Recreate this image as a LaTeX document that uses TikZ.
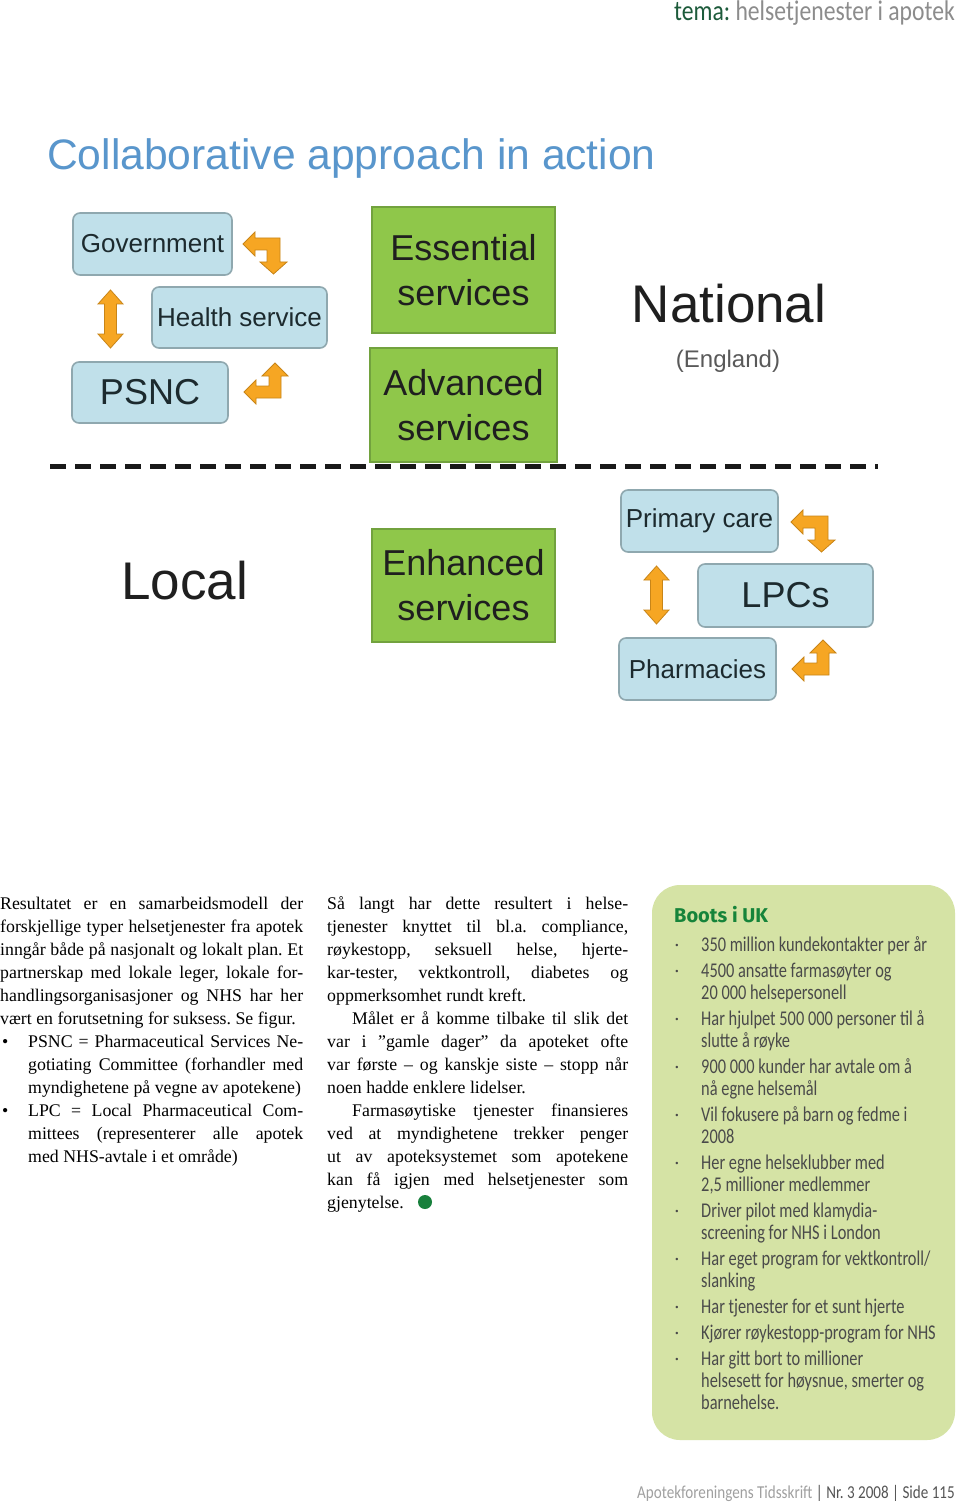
\documentclass[tikz,border=0pt]{standalone}
\usepackage{fontspec}
\setmainfont{Liberation Serif}
\newfontfamily\arialf{Liberation Sans}
\newfontfamily\sidef[FakeStretch=0.78]{Carlito}
\newfontfamily\headf[FakeStretch=0.83]{Carlito}
\newfontfamily\bootsf{Fira Sans}
\definecolor{boxblue}{HTML}{C0E0EA}
\definecolor{boxblueline}{HTML}{8FA8AF}
\definecolor{boxgreen}{HTML}{8FC74A}
\definecolor{greenline}{HTML}{72A23E}
\definecolor{boxtext}{HTML}{1C2A2E}
\definecolor{arrorange}{HTML}{F6A623}
\definecolor{arrline}{HTML}{C88518}
\definecolor{titleblue}{HTML}{5996CC}
\definecolor{temagreen}{HTML}{1D5B3B}
\definecolor{temagray}{HTML}{8C8C8C}
\definecolor{sidebg}{HTML}{D5E3A5}
\definecolor{sidetextc}{HTML}{4A4A4A}
\definecolor{bootsgreen}{HTML}{16843A}
\definecolor{dotgreen}{HTML}{18803C}
\definecolor{footlight}{HTML}{A0A0A0}
\definecolor{footdark}{HTML}{555555}
\newcommand\ColJ[5]{\node[coltext] (#1) at (#2,#3) {\makebox[#4pt][s]{#5}};}
\newcommand\ColL[4]{\node[coltext] (#1) at (#2,#3) {#4};}
\newcommand\SideL[3]{\node[sidetext] (#1) at (701,#2) {#3};}
\newcommand\SideB[2]{\node[sidebullet] (#1) at (677,#2) {•};}
\frenchspacing
\begin{document}
\begin{tikzpicture}[x=1pt,y=-1pt,
  bluebox/.style={draw=boxblueline, fill=boxblue, rounded corners=7pt, line width=1.6pt, text=boxtext, inner sep=0pt},
  greenbox/.style={draw=greenline, fill=boxgreen, line width=1.2pt, text=black!88, inner sep=0pt, align=center, font=\arialf\fontsize{36}{45}\selectfont},
  orarrow/.style={fill=arrorange, draw=arrline, line width=0.8pt, line join=miter},
  coltext/.style={anchor=base west, inner sep=0pt, font=\fontsize{17.8}{23}\selectfont, text=black},
  sidetext/.style={anchor=base west, inner sep=0pt, font=\sidef\fontsize{21}{22}\selectfont, text=sidetextc},
  sidebullet/.style={anchor=base, inner sep=0pt, font=\arialf\fontsize{9}{10}\selectfont, text=sidetextc},
  bentA/.pic={\path[orarrow] (0,12) -- (12,0) -- (12,6) -- (37,6) -- (37,30) -- (44,30) -- (30.5,42) -- (17,30) -- (24,30) -- (24,18) -- (12,18) -- (12,24) -- cycle;},
  bentB/.pic={\path[orarrow] (31,0) -- (44,13) -- (37,13) -- (37,35) -- (12,35) -- (12,41) -- (0,29) -- (12,17) -- (12,23) -- (25,23) -- (25,13) -- (18,13) -- cycle;},
  vdouble/.pic={\path[orarrow] (0,0) -- (12.5,14) -- (6,14) -- (6,44) -- (12.5,44) -- (0,58) -- (-12.5,44) -- (-6,44) -- (-6,14) -- (-12.5,14) -- cycle;}
]
\useasboundingbox (0,0) rectangle (960,1503);
\fill[white] (0,0) rectangle (960,1503);

% header
\node[anchor=base east, inner sep=0pt, font=\headf\fontsize{28.5}{30}\selectfont] (header) at (955,21)
  {\textcolor{temagreen}{tema:} \textcolor{temagray}{helsetjenester i apotek}};

% title
\node[anchor=base west, inner sep=0pt, font=\arialf\fontsize{42.6}{48}\selectfont, text=titleblue] (title) at (47,170) {Collaborative approach in action};

% national boxes
\node[bluebox, minimum width=159pt, minimum height=62pt, font=\arialf\fontsize{26}{30}\selectfont] (gov) at (152.5,244) {Government};
\node[bluebox, minimum width=175pt, minimum height=61pt, font=\arialf\fontsize{26}{30}\selectfont] (hs) at (239.5,317.5) {Health service};
\node[bluebox, minimum width=156pt, minimum height=61pt, font=\arialf\fontsize{36}{40}\selectfont] (psnc) at (150,392.5) {PSNC};
\pic at (243,232) {bentA};
\pic at (244,363) {bentB};
\pic at (110.5,290) {vdouble};

\node[greenbox, minimum width=183pt, minimum height=126pt] (ess) at (463.5,270) {Essential\\services};
\node[greenbox, minimum width=187pt, minimum height=114pt] (adv) at (463.5,405) {Advanced\\services};

\node[anchor=base, inner sep=0pt, font=\arialf\fontsize{53}{60}\selectfont, text=black!88] (national) at (729,322) {National};
\node[anchor=base, inner sep=0pt, font=\arialf\fontsize{24}{28}\selectfont, text=black!65] (england) at (728,367) {(England)};

% divider
\coordinate (dl) at (50,466);
\coordinate (dr) at (878,466);
\draw[line width=5pt, black!90, dash pattern=on 16pt off 9pt] (dl) -- (dr);

% local
\node[anchor=base, inner sep=0pt, font=\arialf\fontsize{53}{60}\selectfont, text=black!88] (local) at (184.5,599) {Local};
\node[greenbox, minimum width=183pt, minimum height=113pt] (enh) at (463.5,585.5) {Enhanced\\services};

\node[bluebox, minimum width=157pt, minimum height=62pt, font=\arialf\fontsize{26}{30}\selectfont] (pc) at (699.5,521) {Primary care};
\node[bluebox, minimum width=175pt, minimum height=63pt, font=\arialf\fontsize{36}{40}\selectfont] (lpcs) at (785.5,595.5) {LPCs};
\node[bluebox, minimum width=157pt, minimum height=62pt, font=\arialf\fontsize{26}{30}\selectfont] (ph) at (697.5,669) {Pharmacies};
\pic at (791,510) {bentA};
\pic at (792,640) {bentB};
\pic at (656.5,566) {vdouble};

% column 1
\ColJ{a1}{0}{909}{303}{Resultatet er en samarbeidsmodell der}
\ColJ{a2}{0}{932}{303}{forskjellige typer helsetjenester fra apotek}
\ColJ{a3}{0}{955}{303}{inngår både på nasjonalt og lokalt plan. Et}
\ColJ{a4}{0}{978}{303}{partnerskap med lokale leger, lokale for-}
\ColJ{a5}{0}{1001}{303}{handlingsorganisasjoner og NHS har her}
\ColL{a6}{0}{1024}{vært en forutsetning for suksess. Se figur.}
\ColL{ab1}{2}{1047}{•}
\ColJ{a7}{28}{1047}{275}{PSNC = Pharmaceutical Services Ne-}
\ColJ{a8}{28}{1070}{275}{gotiating Committee (forhandler med}
\ColL{a9}{28}{1093}{myndighetene på vegne av apotekene)}
\ColL{ab2}{2}{1116}{•}
\ColJ{a10}{28}{1116}{275}{LPC = Local  Pharmaceutical Com-}
\ColJ{a11}{28}{1139}{275}{mittees (representerer alle apotek}
\ColL{a12}{28}{1162}{med NHS-avtale i et område)}

% column 2
\ColJ{b1}{327}{909}{301}{Så langt har dette resultert i helse-}
\ColJ{b2}{327}{932}{301}{tjenester knyttet til bl.a. compliance,}
\ColJ{b3}{327}{955}{301}{røykestopp, seksuell helse, hjerte-}
\ColJ{b4}{327}{978}{301}{kar-tester, vektkontroll, diabetes og}
\ColL{b5}{327}{1001}{oppmerksomhet rundt kreft.}
\ColJ{b6}{352}{1024}{276}{Målet er å komme tilbake til slik det}
\ColJ{b7}{327}{1047}{301}{var i ”gamle dager” da apoteket ofte}
\ColJ{b8}{327}{1070}{301}{var første – og kanskje siste – stopp når}
\ColL{b9}{327}{1093}{noen hadde enklere lidelser.}
\ColJ{b10}{352}{1116}{276}{Farmasøytiske tjenester finansieres}
\ColJ{b11}{327}{1139}{301}{ved at myndighetene trekker penger}
\ColJ{b12}{327}{1162}{301}{ut av apoteksystemet som apotekene}
\ColJ{b13}{327}{1185}{301}{kan få igjen med helsetjenester som}
\ColL{b14}{327}{1208}{gjenytelse.}
\fill[dotgreen] (425,1202) circle (7pt);

% sidebar
\fill[sidebg, rounded corners=28pt] (652,885) rectangle (955,1440);
\node[anchor=base west, inner sep=0pt, font=\bootsf\bfseries\fontsize{20}{24}\selectfont, text=bootsgreen] (boots) at (674,922) {Boots i UK};
\SideB{s1}{948}\SideL{t1}{951}{350 million kundekontakter per år}
\SideB{s2}{974}\SideL{t2}{977}{4500 ansatte farmasøyter og}
\SideL{t2b}{999}{20 000 helsepersonell}
\SideB{s3}{1022}\SideL{t3}{1025}{Har hjulpet 500 000 personer til å}
\SideL{t3b}{1047}{slutte å røyke}
\SideB{s4}{1070}\SideL{t4}{1073}{900 000 kunder har avtale om å}
\SideL{t4b}{1095}{nå egne helsemål}
\SideB{s5}{1118}\SideL{t5}{1121}{Vil fokusere på barn og fedme i}
\SideL{t5b}{1143}{2008}
\SideB{s6}{1166}\SideL{t6}{1169}{Her egne helseklubber med}
\SideL{t6b}{1191}{2,5 millioner medlemmer}
\SideB{s7}{1214}\SideL{t7}{1217}{Driver pilot med klamydia-}
\SideL{t7b}{1239}{screening for NHS i London}
\SideB{s8}{1262}\SideL{t8}{1265}{Har eget program for vektkontroll/}
\SideL{t8b}{1287}{slanking}
\SideB{s9}{1310}\SideL{t9}{1313}{Har tjenester for et sunt hjerte}
\SideB{s10}{1336}\SideL{t10}{1339}{Kjører røykestopp-program for NHS}
\SideB{s11}{1362}\SideL{t11}{1365}{Har gitt bort to millioner}
\SideL{t11b}{1387}{helsesett for høysnue, smerter og}
\SideL{t11c}{1409}{barnehelse.}

% footer
\node[anchor=base east, inner sep=0pt, font=\headf\fontsize{18.2}{20}\selectfont] (footer) at (955,1498)
  {\textcolor{footlight}{Apotekforeningens Tidsskrift} \textcolor{footdark}{| Nr. 3 2008 | Side 115}};
\end{tikzpicture}
\end{document}
